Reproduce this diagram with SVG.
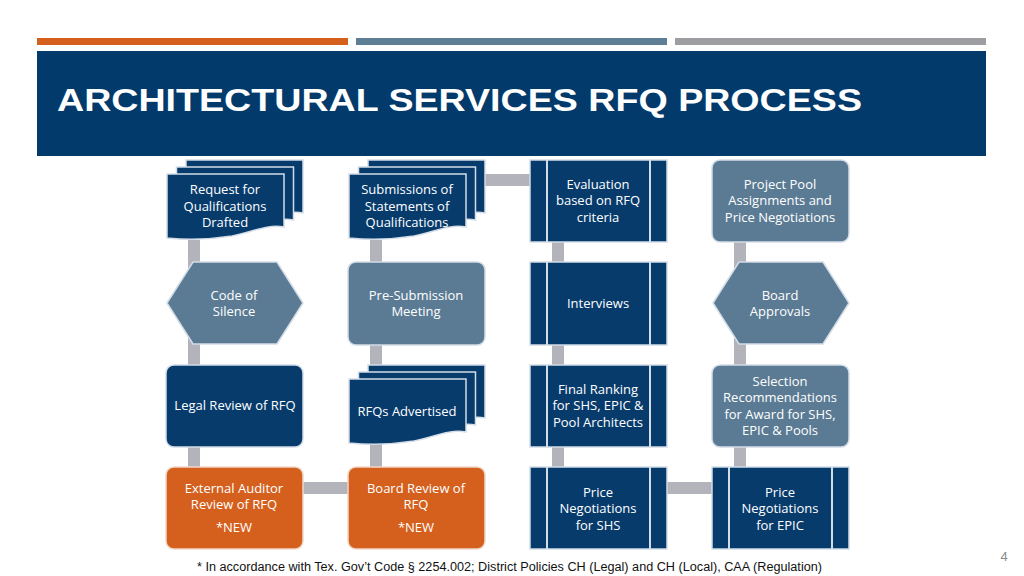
<svg xmlns="http://www.w3.org/2000/svg" xmlns:xlink="http://www.w3.org/1999/xlink" width="1024" height="576" viewBox="0 0 1024 576">
<style>
.dk{fill:#073b6c;stroke:#d3dde8;stroke-width:1.5}
.bg{fill:#5b7b94;stroke:#d3dde8;stroke-width:1.5}
.or{fill:#d5601d;stroke:#f0d8c8;stroke-width:1.5}
.ln{stroke:#d3dde8;stroke-width:2}
.t{font-family:"Open Sans","Liberation Sans",sans-serif;font-size:13px;fill:#ffffff;text-anchor:middle}
.cn{stroke:#b3b3bb;stroke-width:12;fill:none}
</style>
<defs>
<path id="doc" d="M0,0 H117 V53 C100,50 85,58 65,62 C40,66 20,66 0,64 Z"/>
</defs>
<rect width="1024" height="576" fill="#ffffff"/>
<rect x="37" y="38" width="311" height="7" fill="#d5601d"/>
<rect x="356" y="38" width="311" height="7" fill="#5e7e95"/>
<rect x="675" y="38" width="311" height="7" fill="#9c9ea2"/>
<rect x="37" y="51" width="949" height="105" fill="#023a6c"/>
<text x="57" y="111" font-family="Liberation Sans, Arial, sans-serif" font-weight="bold" font-size="32" fill="#ffffff" textLength="805" lengthAdjust="spacingAndGlyphs">ARCHITECTURAL SERVICES RFQ PROCESS</text>

<g id="connectors">
<line class="cn" x1="194" y1="240" x2="194" y2="469"/>
<line class="cn" x1="376" y1="240" x2="376" y2="469"/>
<line class="cn" x1="558" y1="240" x2="558" y2="469"/>
<line class="cn" x1="740" y1="240" x2="740" y2="469"/>
<line class="cn" x1="483" y1="180" x2="532" y2="180"/>
<line class="cn" x1="301" y1="488" x2="350" y2="488"/>
<line class="cn" x1="665" y1="488" x2="714" y2="488"/>
</g>

<g id="n1">
<use href="#doc" class="dk" x="186" y="160"/>
<use href="#doc" class="dk" x="176.5" y="167"/>
<use href="#doc" class="dk" x="167" y="174"/>
<text class="t"><tspan x="225" y="194">Request for</tspan><tspan x="225" y="210.5">Qualifications</tspan><tspan x="225" y="227">Drafted</tspan></text>
</g>
<g id="n2">
<use href="#doc" class="dk" x="368" y="160"/>
<use href="#doc" class="dk" x="358.5" y="167"/>
<use href="#doc" class="dk" x="349" y="174"/>
<text class="t"><tspan x="407" y="194">Submissions of</tspan><tspan x="407" y="210.5">Statements of</tspan><tspan x="407" y="227">Qualifications</tspan></text>
</g>
<g id="n3">
<rect class="dk" x="530" y="160" width="137" height="82"/>
<line class="ln" x1="547" y1="160" x2="547" y2="242"/>
<line class="ln" x1="650" y1="160" x2="650" y2="242"/>
<text class="t"><tspan x="598" y="188.5">Evaluation</tspan><tspan x="598" y="205">based on RFQ</tspan><tspan x="598" y="221.5">criteria</tspan></text>
</g>
<g id="n4">
<rect class="bg" x="712" y="160" width="137" height="82" rx="8"/>
<text class="t"><tspan x="780" y="188.5">Project Pool</tspan><tspan x="780" y="205">Assignments and</tspan><tspan x="780" y="221.5">Price Negotiations</tspan></text>
</g>

<g id="n5">
<polygon class="bg" points="167,303 193,262 277,262 303,303 277,344 193,344"/>
<text class="t"><tspan x="234" y="299.5">Code of</tspan><tspan x="234" y="316">Silence</tspan></text>
</g>
<g id="n6">
<rect class="bg" x="348" y="262" width="137" height="83" rx="8"/>
<text class="t"><tspan x="416" y="299.5">Pre-Submission</tspan><tspan x="416" y="316">Meeting</tspan></text>
</g>
<g id="n7">
<rect class="dk" x="530" y="262" width="137" height="83"/>
<line class="ln" x1="547" y1="262" x2="547" y2="345"/>
<line class="ln" x1="650" y1="262" x2="650" y2="345"/>
<text class="t" x="598" y="307.5">Interviews</text>
</g>
<g id="n8">
<polygon class="bg" points="713,303 739,262 823,262 849,303 823,344 739,344"/>
<text class="t"><tspan x="780" y="299.5">Board</tspan><tspan x="780" y="316">Approvals</tspan></text>
</g>

<g id="n9">
<rect class="dk" x="166" y="365" width="137" height="82" rx="8"/>
<text class="t" x="235" y="409.5">Legal Review of RFQ</text>
</g>
<g id="n10">
<use href="#doc" class="dk" x="368" y="365"/>
<use href="#doc" class="dk" x="358.5" y="372"/>
<use href="#doc" class="dk" x="349" y="379"/>
<text class="t" x="407" y="415.5">RFQs Advertised</text>
</g>
<g id="n11">
<rect class="dk" x="530" y="365" width="137" height="82"/>
<line class="ln" x1="547" y1="365" x2="547" y2="447"/>
<line class="ln" x1="650" y1="365" x2="650" y2="447"/>
<text class="t"><tspan x="598" y="393.5">Final Ranking</tspan><tspan x="598" y="410">for SHS, EPIC &amp;</tspan><tspan x="598" y="426.5">Pool Architects</tspan></text>
</g>
<g id="n12">
<rect class="bg" x="712" y="365" width="137" height="82" rx="8"/>
<text class="t"><tspan x="780" y="385.5">Selection</tspan><tspan x="780" y="402">Recommendations</tspan><tspan x="780" y="418.5">for Award for SHS,</tspan><tspan x="780" y="435">EPIC &amp; Pools</tspan></text>
</g>

<g id="n13">
<rect class="or" x="166" y="467" width="137" height="82" rx="8"/>
<text class="t"><tspan x="234" y="492.5">External Auditor</tspan><tspan x="234" y="509">Review of RFQ</tspan><tspan x="234" y="531.5">*NEW</tspan></text>
</g>
<g id="n14">
<rect class="or" x="348" y="467" width="137" height="82" rx="8"/>
<text class="t"><tspan x="416" y="492.5">Board Review of</tspan><tspan x="416" y="509">RFQ</tspan><tspan x="416" y="531.5">*NEW</tspan></text>
</g>
<g id="n15">
<rect class="dk" x="530" y="467" width="137" height="82"/>
<line class="ln" x1="547" y1="467" x2="547" y2="549"/>
<line class="ln" x1="650" y1="467" x2="650" y2="549"/>
<text class="t"><tspan x="598" y="496.5">Price</tspan><tspan x="598" y="513">Negotiations</tspan><tspan x="598" y="529.5">for SHS</tspan></text>
</g>
<g id="n16">
<rect class="dk" x="712" y="467" width="137" height="82"/>
<line class="ln" x1="729" y1="467" x2="729" y2="549"/>
<line class="ln" x1="832" y1="467" x2="832" y2="549"/>
<text class="t"><tspan x="780" y="496.5">Price</tspan><tspan x="780" y="513">Negotiations</tspan><tspan x="780" y="529.5">for EPIC</tspan></text>
</g>

<text x="197" y="571" font-family="Liberation Sans, Arial, sans-serif" font-size="12" fill="#111111" textLength="625" lengthAdjust="spacingAndGlyphs">* In accordance with Tex. Gov’t Code § 2254.002; District Policies CH (Legal) and CH (Local), CAA (Regulation)</text>
<text x="1004" y="561" font-family="Liberation Sans, Arial, sans-serif" font-size="13" fill="#8a8a8a" text-anchor="middle">4</text>
</svg>
